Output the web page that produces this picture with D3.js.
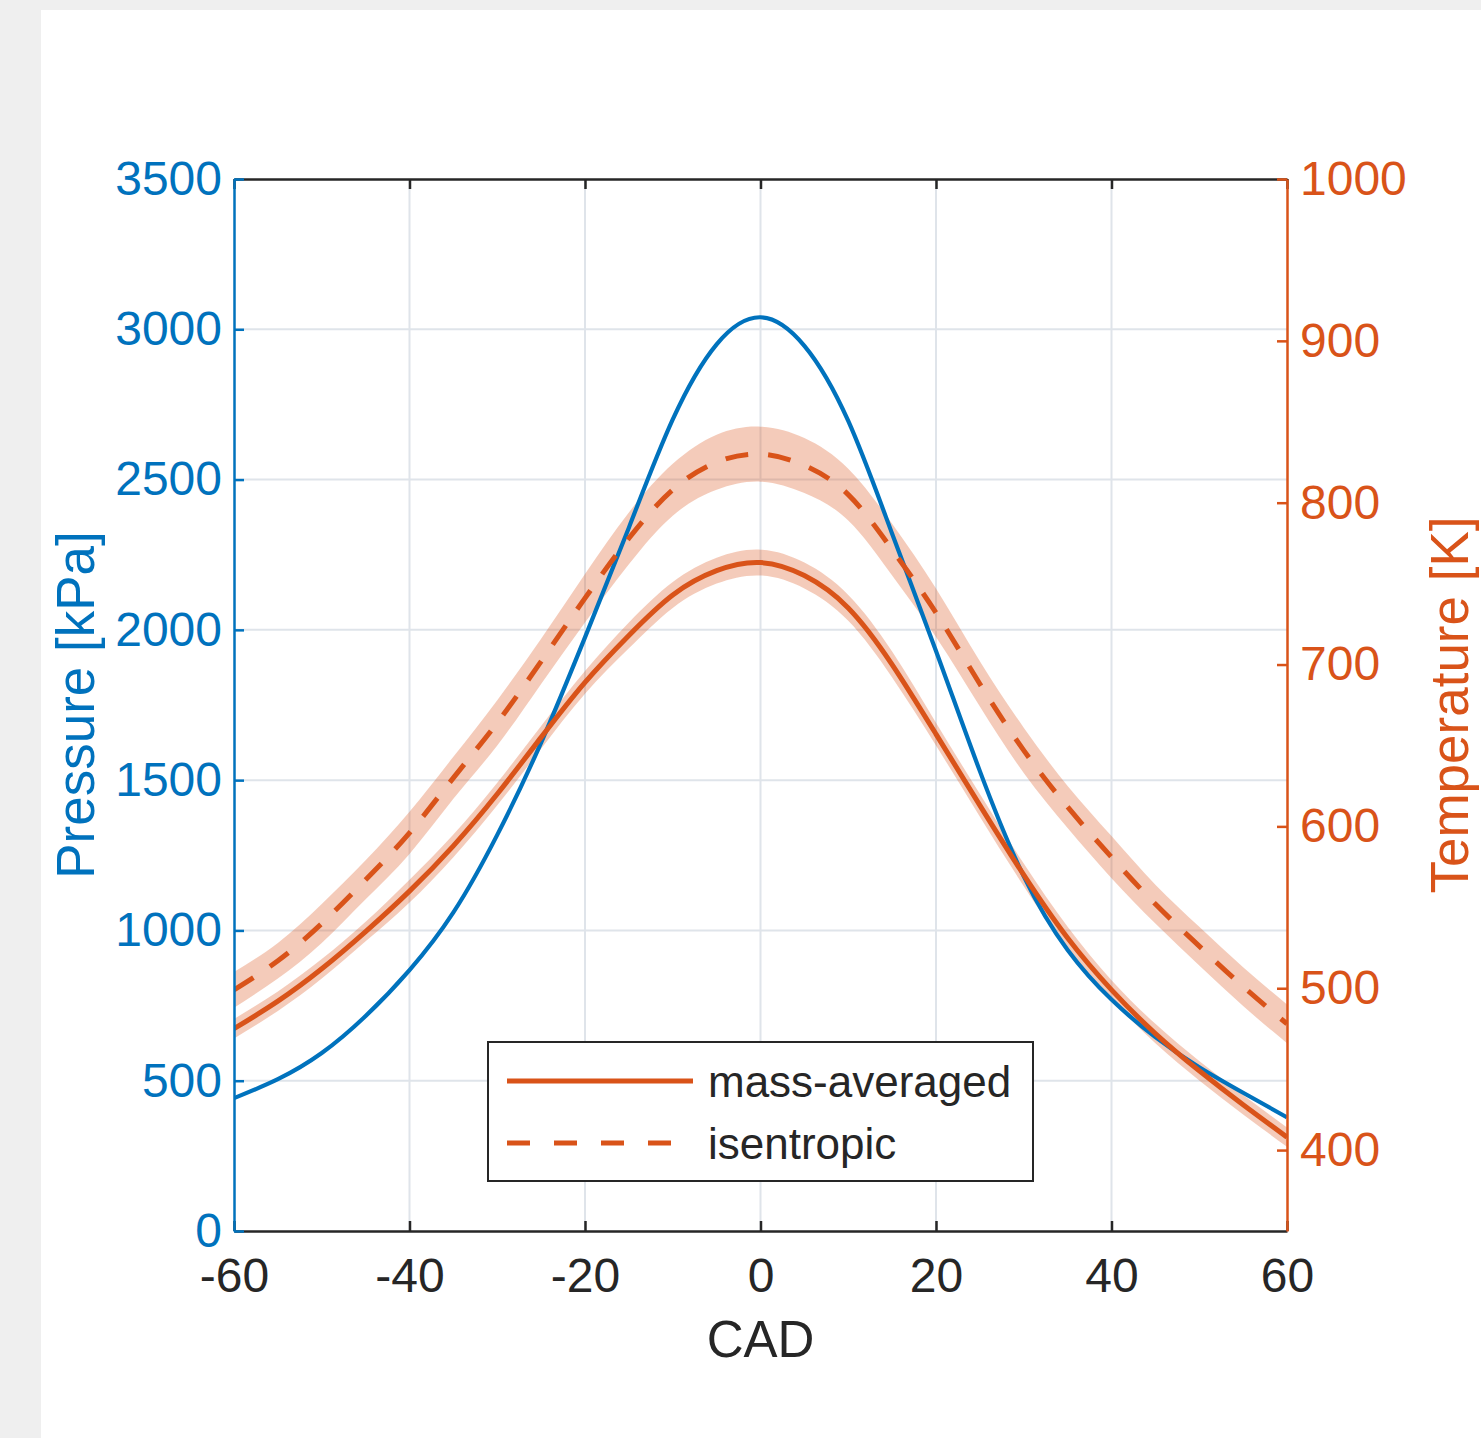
<!DOCTYPE html>
<html>
<head>
<meta charset="utf-8">
<script src="https://cdn.jsdelivr.net/npm/d3@7"></script>
<style>
  body { margin: 0; background: #f0f0f0; }
  text { font-family: 'Liberation Sans', Arial, sans-serif; }
</style>
</head>
<body>
<div id="viz"></div>
<script>
// crank angle (deg)
const cad = [-60, -55, -50, -45, -40, -35, -30, -25, -20, -15, -10, -5, 0, 5, 10, 15, 20, 25, 30, 35, 40, 45, 50, 55, 60];
// cylinder pressure, kPa (left axis)
const pressure = [442, 505, 592, 715, 868, 1060, 1318, 1625, 1975, 2340, 2700, 2950, 3040, 2945, 2695, 2320, 1930, 1530, 1180, 935, 770, 645, 545, 460, 378];
// temperatures, K (right axis)
const tempMass = [475, 492, 512, 535, 560, 588, 620, 655, 689, 718, 743, 758, 763, 755, 735, 700, 657, 613, 570, 531, 499, 472, 449, 428, 408];
const tempMassSpread = [6, 6, 6, 6, 7, 7, 7, 7, 7, 8, 8, 8, 8, 8, 8, 8, 7, 7, 7, 7, 6, 6, 6, 6, 6];
const tempIsen = [499, 517, 540, 567, 596, 630, 664, 702, 741, 778, 808, 825, 830, 823, 805, 771, 732, 688, 647, 612, 581, 552, 526, 501, 478];
const tempIsenSpread = [11, 11, 12, 12, 13, 13, 14, 14, 15, 16, 16, 17, 17, 17, 16, 16, 15, 14, 14, 13, 13, 12, 12, 12, 12];

const xTicks = [-60, -40, -20, 0, 20, 40, 60];
const pTicks = [0, 500, 1000, 1500, 2000, 2500, 3000, 3500];
const tTicks = [400, 500, 600, 700, 800, 900, 1000];
const legendLabels = ['mass-averaged', 'isentropic'];

const width = 1481, height = 1438;
const margin = { top: 179, right: 194, bottom: 207, left: 234 };
const innerW = width - margin.left - margin.right;
const innerH = height - margin.top - margin.bottom;

const blue = '#0072BD', orange = '#D95319', dark = '#262626';

const svg = d3.select('#viz').append('svg')
  .attr('width', width)
  .attr('height', height)
  .style('display', 'block');

// page background + white panel
svg.append('rect').attr('width', width).attr('height', height).attr('fill', '#efefef');
svg.append('rect').attr('x', 41).attr('y', 10).attr('width', width - 41).attr('height', height - 10).attr('fill', '#ffffff');

const g = svg.append('g').attr('transform', `translate(${margin.left},${margin.top})`);

const x = d3.scaleLinear().domain([-60, 60]).range([0, innerW]);
const yP = d3.scaleLinear().domain([0, 3500]).range([innerH, 0]);
const yT = d3.scaleLinear().domain([350, 1000]).range([innerH, 0]);

g.append('clipPath').attr('id', 'plot-clip')
  .append('rect').attr('width', innerW).attr('height', innerH);

// grid
g.append('g')
  .selectAll('line')
  .data(xTicks.slice(1, -1))
  .enter().append('line')
  .attr('x1', d => x(d)).attr('x2', d => x(d))
  .attr('y1', 0).attr('y2', innerH)
  .attr('stroke', '#dfe4ea').attr('stroke-width', 2);

g.append('g')
  .selectAll('line')
  .data(pTicks.slice(1, -1))
  .enter().append('line')
  .attr('x1', 0).attr('x2', innerW)
  .attr('y1', d => yP(d)).attr('y2', d => yP(d))
  .attr('stroke', '#dfe4ea').attr('stroke-width', 2);

const plot = g.append('g').attr('clip-path', 'url(#plot-clip)');

const pts = (vals, spread) => cad.map((c, i) => ({ c, v: vals[i], s: spread ? spread[i] : 0 }));
const curve = d3.curveNatural;

const band = d3.area()
  .x(d => x(d.c))
  .y0(d => yT(d.v - d.s))
  .y1(d => yT(d.v + d.s))
  .curve(curve);

plot.append('path').datum(pts(tempIsen, tempIsenSpread))
  .attr('d', band).attr('fill', orange).attr('fill-opacity', 0.3);
plot.append('path').datum(pts(tempMass, tempMassSpread))
  .attr('d', band).attr('fill', orange).attr('fill-opacity', 0.3);

const lineP = d3.line().x(d => x(d.c)).y(d => yP(d.v)).curve(curve);
const lineT = d3.line().x(d => x(d.c)).y(d => yT(d.v)).curve(curve);

plot.append('path').datum(pts(pressure))
  .attr('d', lineP).attr('fill', 'none')
  .attr('stroke', blue).attr('stroke-width', 4.2);

plot.append('path').datum(pts(tempMass))
  .attr('d', lineT).attr('fill', 'none')
  .attr('stroke', orange).attr('stroke-width', 5);

plot.append('path').datum(pts(tempIsen))
  .attr('d', lineT).attr('fill', 'none')
  .attr('stroke', orange).attr('stroke-width', 5)
  .attr('stroke-dasharray', '23,20');

// axes
const plain = d => String(d);

function styleAxis(sel, color, size) {
  sel.select('.domain').attr('stroke', color).attr('stroke-width', 2.5);
  sel.selectAll('.tick line').attr('stroke', color).attr('stroke-width', 2.5);
  sel.selectAll('.tick text').attr('fill', color).style('font-size', size + 'px');
}

g.append('g')
  .attr('transform', `translate(0,${innerH})`)
  .call(d3.axisBottom(x).tickValues(xTicks).tickFormat(plain).tickSize(-10).tickSizeOuter(0).tickPadding(27))
  .call(s => styleAxis(s, dark, 48));

g.append('g')
  .call(d3.axisTop(x).tickValues(xTicks).tickSize(-10).tickSizeOuter(0).tickFormat(''))
  .call(s => styleAxis(s, dark, 48));

g.append('g')
  .call(d3.axisLeft(yP).tickValues(pTicks).tickFormat(plain).tickSize(-10).tickSizeOuter(0).tickPadding(12))
  .call(s => styleAxis(s, blue, 48));

g.append('g')
  .attr('transform', `translate(${innerW},0)`)
  .call(d3.axisRight(yT).tickValues(tTicks).tickFormat(plain).tickSize(-10).tickSizeOuter(0).tickPadding(13))
  .call(s => styleAxis(s, orange, 48));

// axis labels
svg.append('text')
  .attr('x', margin.left + innerW / 2).attr('y', 1357)
  .attr('text-anchor', 'middle')
  .attr('fill', dark)
  .style('font-size', '51px')
  .text('CAD');

svg.append('text')
  .attr('transform', `translate(94,${margin.top + innerH / 2}) rotate(-90)`)
  .attr('text-anchor', 'middle')
  .attr('fill', blue)
  .style('font-size', '53px')
  .text('Pressure [kPa]');

svg.append('text')
  .attr('transform', `translate(1468,${margin.top + innerH / 2}) rotate(-90)`)
  .attr('text-anchor', 'middle')
  .attr('fill', orange)
  .style('font-size', '53px')
  .text('Temperature [K]');

// legend
const legend = svg.append('g').attr('class', 'legend').attr('transform', 'translate(488,1042)');
legend.append('rect')
  .attr('width', 545).attr('height', 139)
  .attr('fill', '#ffffff').attr('stroke', dark).attr('stroke-width', 2);

const legendItem = legend.selectAll('.legend-item')
  .data(legendLabels)
  .enter().append('g')
  .attr('class', 'legend-item')
  .attr('transform', (d, i) => `translate(0,${39 + i * 62})`);

legendItem.append('line')
  .attr('x1', 19).attr('x2', (d, i) => i === 0 ? 205 : 185)
  .attr('y1', 0).attr('y2', 0)
  .attr('stroke', orange).attr('stroke-width', 5)
  .attr('stroke-dasharray', (d, i) => i === 0 ? null : '23,24');

legendItem.append('text')
  .attr('x', 220).attr('y', 16)
  .attr('fill', dark)
  .style('font-size', '44px')
  .text(d => d);
</script>
</body>
</html>
